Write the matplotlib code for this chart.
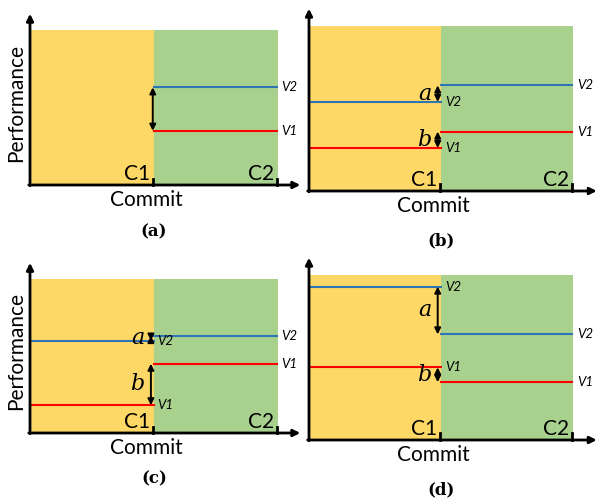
import numpy as np
import matplotlib.pyplot as plt

# performance levels (0-100 scale), before C1 and after C1
panel_names = ['(a)', '(b)', '(c)', '(d)']
v1_before = [None, 26, 18, 44]
v2_before = [None, 54, 60, 93]
v1_after = [35, 36, 45, 35]
v2_after = [63, 64, 63, 64]
commits = [1, 2]
commit_labels = ['C1', 'C2']

yellow = '#FDD866'
green = '#A9D18E'
blue = '#2E75B6'
red = '#FF0000'
font = 'Lato'

W, H = 598, 498
fig = plt.figure(figsize=(W / 100, H / 100), dpi=100)
fig.patch.set_facecolor('white')

# pixel boxes of the coloured areas: left, top, right, bottom
boxes = [(30, 30, 278, 185), (309, 26, 573, 191), (30, 279, 278, 433), (309, 275, 573, 440)]


def darrow(ax, x, y0, y1):
    ax.annotate('', xy=(x, y1), xytext=(x, y0),
                arrowprops=dict(arrowstyle='<|-|>', color='black', lw=1.4,
                                mutation_scale=9, shrinkA=0, shrinkB=0),
                annotation_clip=False)


for i in range(4):
    l, t, r, b = boxes[i]
    ax = fig.add_axes([l / W, (H - b) / H, (r - l) / W, (b - t) / H])
    ax.set_xlim(0, 2)
    ax.set_ylim(0, 100)
    ax.axis('off')
    ax.axvspan(0, 1, color=yellow, lw=0)
    ax.axvspan(1, 2, color=green, lw=0)

    # axes arrows
    ax.annotate('', xy=(1.09, 0), xytext=(-0.005, 0), xycoords='axes fraction',
                arrowprops=dict(arrowstyle='-|>', color='black', lw=2, mutation_scale=10,
                                shrinkA=0, shrinkB=0), annotation_clip=False)
    ax.annotate('', xy=(0, 1.105), xytext=(0, -0.005), xycoords='axes fraction',
                arrowprops=dict(arrowstyle='-|>', color='black', lw=2, mutation_scale=10,
                                shrinkA=0, shrinkB=0), annotation_clip=False)

    for c, lab in zip(commits, commit_labels):
        ax.plot([c - 0.01, c - 0.01], [0, 4], color='black', lw=2, clip_on=False)
        ax.text(c - 0.03, 0.5, lab, ha='right', va='bottom', fontsize=15, family=font)

    ax.text(0.47, -0.03, 'Commit', transform=ax.transAxes, ha='center', va='top',
            fontsize=15, family=font)
    if i % 2 == 0:
        ax.text(-0.055, 0.53, 'Performance', transform=ax.transAxes, rotation=90,
                ha='center', va='center', fontsize=15, family=font)
    ax.text(0.5, -0.3, panel_names[i], transform=ax.transAxes, ha='center', va='center',
            fontsize=12, family='DejaVu Serif', weight='bold')

    # lines after C1
    ax.plot([1, 2], [v2_after[i], v2_after[i]], color=blue, lw=1.5)
    ax.plot([1, 2], [v1_after[i], v1_after[i]], color=red, lw=1.5)
    ax.text(2.03, v2_after[i], 'V2', style='italic', fontsize=9.5, va='center', ha='left', family=font)
    ax.text(2.03, v1_after[i], 'V1', style='italic', fontsize=9.5, va='center', ha='left', family=font)

    if v1_before[i] is None:
        darrow(ax, 0.99, v1_after[i], v2_after[i])
        continue

    ax.plot([0, 1], [v2_before[i], v2_before[i]], color=blue, lw=1.5)
    ax.plot([0, 1], [v1_before[i], v1_before[i]], color=red, lw=1.5)
    ax.text(1.03, v2_before[i], 'V2', style='italic', fontsize=9.5, va='center', ha='left', family=font)
    ax.text(1.03, v1_before[i], 'V1', style='italic', fontsize=9.5, va='center', ha='left', family=font)

    xa = 0.975
    darrow(ax, xa, v2_before[i], v2_after[i])
    darrow(ax, xa, v1_before[i], v1_after[i])
    ax.text(xa - 0.05, (v2_before[i] + v2_after[i]) / 2, 'a', style='italic', fontsize=16,
            family='DejaVu Serif', ha='right', va='center')
    ax.text(xa - 0.05, (v1_before[i] + v1_after[i]) / 2, 'b', style='italic', fontsize=16,
            family='DejaVu Serif', ha='right', va='center')

fig.savefig('out.png', dpi=100)
